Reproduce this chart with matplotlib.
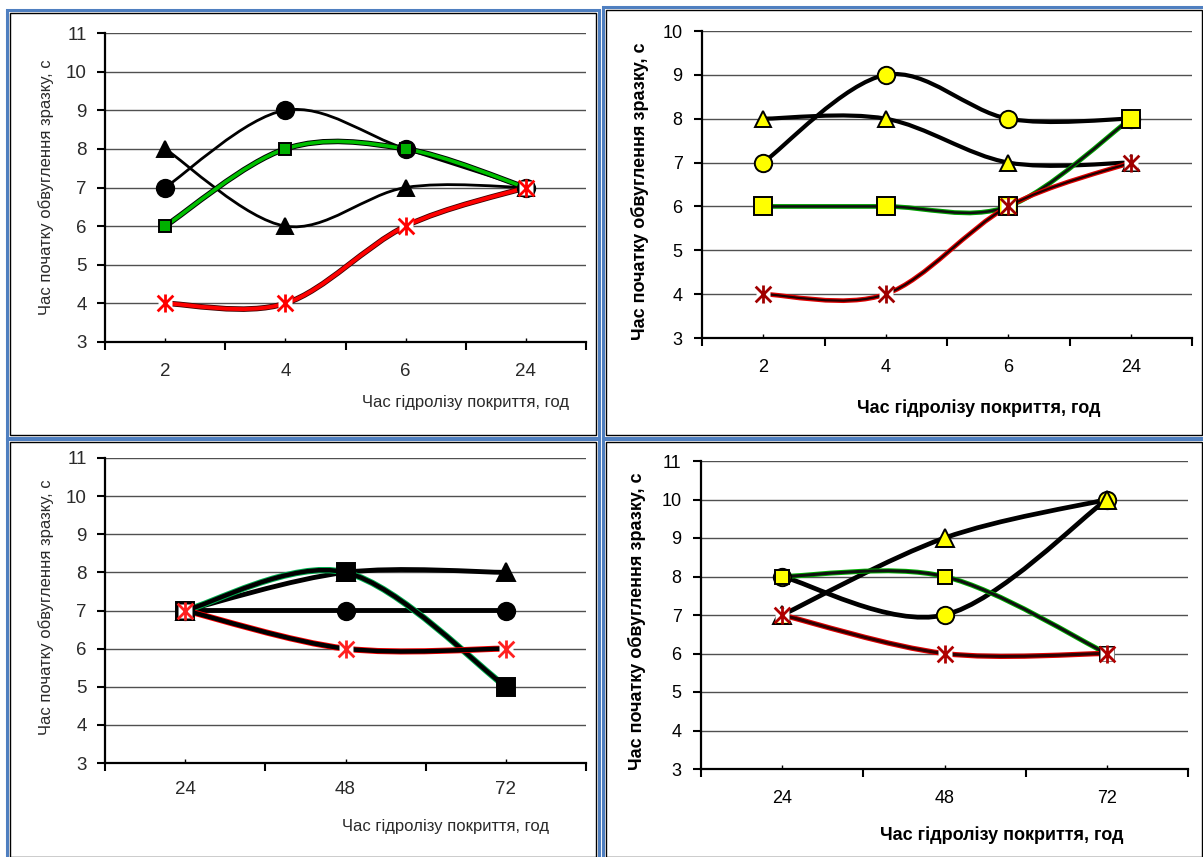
import numpy as np
import matplotlib
matplotlib.use('Agg')
import matplotlib.pyplot as plt
from matplotlib.path import Path
from matplotlib.patches import PathPatch, Rectangle
import matplotlib.patheffects as pe
from matplotlib import font_manager

W, H = 1203, 857

# ---------------- data ----------------
cats_a = ['2', '4', '6', '24']
cats_b = ['24', '48', '72']

a1_circle = [7, 9, 8, 7]
a1_triangle = [8, 6, 7, 7]
a1_square = [6, 8, 8, 7]
a1_star = [4, 4, 6, 7]

a2_circle = [7, 9, 8, 8]
a2_triangle = [8, 8, 7, 7]
a2_square = [6, 6, 6, 8]
a2_star = [4, 4, 6, 7]

b1_circle = [7, 7, 7]
b1_triangle = [7, 8, 8]
b1_square = [7, 8, 5]
b1_star = [7, 6, 6]

b2_circle = [8, 7, 10]
b2_triangle = [7, 9, 10]
b2_square = [8, 8, 6]
b2_star = [7, 6, 6]

ylabel_text = 'Час початку обвуглення зразку, с'
xlabel_text = 'Час гідролізу покриття, год'

# ---------------- fonts ----------------
avail = {f.name for f in font_manager.fontManager.ttflist}
NARROW = ['Liberation Sans Narrow', 'DejaVu Sans'] if 'Liberation Sans Narrow' in avail else ['Liberation Sans', 'DejaVu Sans']
ARIAL = ['Liberation Sans', 'DejaVu Sans']

fig = plt.figure(figsize=(W / 100, H / 100), dpi=100)
fig.patch.set_facecolor('white')


def fx(px):
    return px / W


def fy(py):
    return 1 - py / H


def frame(x0, y0, x1, y1):
    fig.add_artist(Rectangle((fx(x0), fy(y1)), fx(x1) - fx(x0), fy(y0) - fy(y1),
                             fill=False, ec='#4F7FC0', lw=2.2, transform=fig.transFigure))
    fig.add_artist(Rectangle((fx(x0 + 3), fy(y1 - 3)), fx(x1 - 3) - fx(x0 + 3), fy(y0 + 3) - fy(y1 - 3),
                             fill=False, ec='black', lw=1.0, transform=fig.transFigure))


frame(7, 10, 599, 438)
frame(603, 7, 1205, 438)
frame(7, 439, 599, 860)
frame(603, 439, 1205, 860)


def smooth_path(ys):
    xs = np.arange(len(ys), dtype=float)
    pts = np.column_stack([xs, np.asarray(ys, dtype=float)])
    n = len(pts)
    verts = [pts[0]]
    codes = [Path.MOVETO]
    for i in range(n - 1):
        p0 = pts[i - 1] if i > 0 else pts[i]
        p1 = pts[i]
        p2 = pts[i + 1]
        p3 = pts[i + 2] if i + 2 < n else pts[i + 1]
        c1 = p1 + (p2 - p0) / 6.0
        c2 = p2 - (p3 - p1) / 6.0
        verts += [c1, c2, p2]
        codes += [Path.CURVE4] * 3
    return Path(verts, codes)


star_marker = Path([(-1, -1), (1, 1), (-1, 1), (1, -1), (0, -1.15), (0, 1.15)],
                   [Path.MOVETO, Path.LINETO, Path.MOVETO, Path.LINETO, Path.MOVETO, Path.LINETO])


def line(ax, ys, core, core_w, stroke=None, stroke_w=None):
    patch = PathPatch(smooth_path(ys), fill=False, ec=core, lw=core_w, zorder=3,
                      capstyle='round', joinstyle='round', transform=ax.transData)
    if stroke is not None:
        patch.set_path_effects([pe.Stroke(linewidth=stroke_w, foreground=stroke), pe.Normal()])
    ax.add_patch(patch)


def marks(ax, ys, marker, ms, mfc, mec='black', mew=1.4, z=5):
    xs = np.arange(len(ys))
    ax.plot(xs, ys, ls='none', marker=marker, ms=ms, mfc=mfc, mec=mec, mew=mew, zorder=z, clip_on=False)


def star(ax, ys, color, ms, z=8):
    xs = np.arange(len(ys))
    ax.plot(xs, ys, ls='none', marker='s', ms=ms * 0.8, mfc='white', mec='none', zorder=z, clip_on=False)
    ax.plot(xs, ys, ls='none', marker=star_marker, ms=ms, mfc='none', mec=color, mew=2.0, zorder=z + 0.1, clip_on=False)


def setup(ax, cats, ymin, ymax, font, tcolor, tsize, xpad, ypad):
    n = len(cats)
    ax.set_xlim(-0.5, n - 0.5)
    ax.set_ylim(ymin, ymax)
    ax.set_yticks(range(ymin, ymax + 1))
    ax.set_xticks(np.arange(-0.5, n, 1.0))
    ax.set_xticklabels([])
    ax.set_xticks(range(n), minor=True)
    ax.set_xticklabels(cats, minor=True)
    for s in ['top', 'right']:
        ax.spines[s].set_visible(False)
    for s in ['left', 'bottom']:
        ax.spines[s].set_linewidth(1.6)
        ax.spines[s].set_color('black')
        ax.spines[s].set_zorder(2)
    ax.tick_params(axis='x', which='major', direction='out', length=6, width=1.5)
    ax.tick_params(axis='x', which='minor', direction='in', length=3, width=1.0, pad=xpad,
                   labelsize=tsize, labelcolor=tcolor, labelfontfamily=font)
    ax.tick_params(axis='y', which='major', direction='out', length=6, width=1.5, pad=ypad,
                   labelsize=tsize, labelcolor=tcolor, labelfontfamily=font)
    ax.grid(axis='y', color='#505050', lw=1.0, zorder=1)
    ax.set_axisbelow(True)
    ax.patch.set_alpha(0)


def axes_px(x0, y_top, x1, y_bot):
    return fig.add_axes([fx(x0), fy(y_bot), fx(x1) - fx(x0), fy(y_top) - fy(y_bot)])


GREY = '#2a2a2a'
YEL = '#FFFF00'

# ---------------- top-left ----------------
ax = axes_px(105, 33, 586, 342)
setup(ax, cats_a, 3, 11, NARROW, GREY, 13.5, 15, 7)
line(ax, a1_circle, 'black', 2.0)
line(ax, a1_triangle, 'black', 2.0)
line(ax, a1_square, '#00C000', 2.6, 'black', 4.0)
line(ax, a1_star, '#FF0000', 2.8, '#400000', 4.0)
marks(ax, a1_circle, 'o', 12.5, 'black', z=5)
marks(ax, a1_triangle, '^', 12, 'black', z=6)
marks(ax, a1_square, 's', 8.5, '#00B000', z=7)
star(ax, a1_star, '#FF0000', 13)
fig.text(fx(46), fy(187), ylabel_text, rotation=90, ha='center', va='center',
         fontsize=12, family=NARROW, color=GREY)
fig.text(fx(466), fy(402), xlabel_text, ha='center', va='center',
         fontsize=12, family=NARROW, color=GREY)

# ---------------- top-right ----------------
ax = axes_px(702, 31, 1192, 338)
setup(ax, cats_a, 3, 10, ARIAL, 'black', 13, 15, 8)
line(ax, a2_circle, 'black', 3.0)
line(ax, a2_triangle, 'black', 3.0)
line(ax, a2_square, '#101010', 1.8, '#00A000', 3.4)
line(ax, a2_star, '#200000', 1.6, '#E00000', 3.4)
marks(ax, a2_circle, 'o', 12.5, YEL, z=5)
marks(ax, a2_triangle, '^', 12, YEL, z=6)
marks(ax, a2_square, 's', 12.5, YEL, z=7)
star(ax, a2_star, '#A00000', 13)
fig.text(fx(640), fy(191), ylabel_text, rotation=90, ha='center', va='center',
         fontsize=13, family=ARIAL, weight='bold', color='black')
fig.text(fx(979), fy(408), xlabel_text, ha='center', va='center',
         fontsize=13, family=ARIAL, weight='bold', color='black')

# ---------------- bottom-left ----------------
ax = axes_px(105, 458, 586, 763)
setup(ax, cats_b, 3, 11, NARROW, GREY, 13.5, 13, 7)
line(ax, b1_circle, 'black', 3.5)
line(ax, b1_triangle, 'black', 3.5)
line(ax, b1_square, 'black', 3.2, '#00B050', 4.6)
line(ax, b1_star, 'black', 3.2, '#FF0000', 4.4)
marks(ax, b1_circle, 'o', 12.5, 'black', z=5)
marks(ax, b1_triangle, '^', 12.5, 'black', z=6)
marks(ax, b1_square, 's', 12.5, 'black', z=7)
star(ax, b1_star, '#FF2020', 13)
fig.text(fx(46), fy(607), ylabel_text, rotation=90, ha='center', va='center',
         fontsize=12, family=NARROW, color=GREY)
fig.text(fx(446), fy(827), xlabel_text, ha='center', va='center',
         fontsize=12, family=NARROW, color=GREY)

# ---------------- bottom-right ----------------
ax = axes_px(701, 461, 1188, 769)
setup(ax, cats_b, 3, 11, ARIAL, 'black', 13, 15, 8)
line(ax, b2_circle, 'black', 3.4)
line(ax, b2_triangle, 'black', 3.4)
line(ax, b2_square, '#101010', 2.2, '#00B000', 3.6)
line(ax, b2_star, '#300000', 2.2, '#E00000', 3.8)
marks(ax, b2_circle, 'o', 12.5, YEL, z=5)
marks(ax, b2_triangle, '^', 12.5, YEL, z=6)
marks(ax, b2_square, 's', 10, YEL, z=7)
star(ax, b2_star, '#B00000', 13)
fig.text(fx(637), fy(621), ylabel_text, rotation=90, ha='center', va='center',
         fontsize=13, family=ARIAL, weight='bold', color='black')
fig.text(fx(1002), fy(835), xlabel_text, ha='center', va='center',
         fontsize=13, family=ARIAL, weight='bold', color='black')

fig.savefig('out.png', dpi=100, facecolor='white')
